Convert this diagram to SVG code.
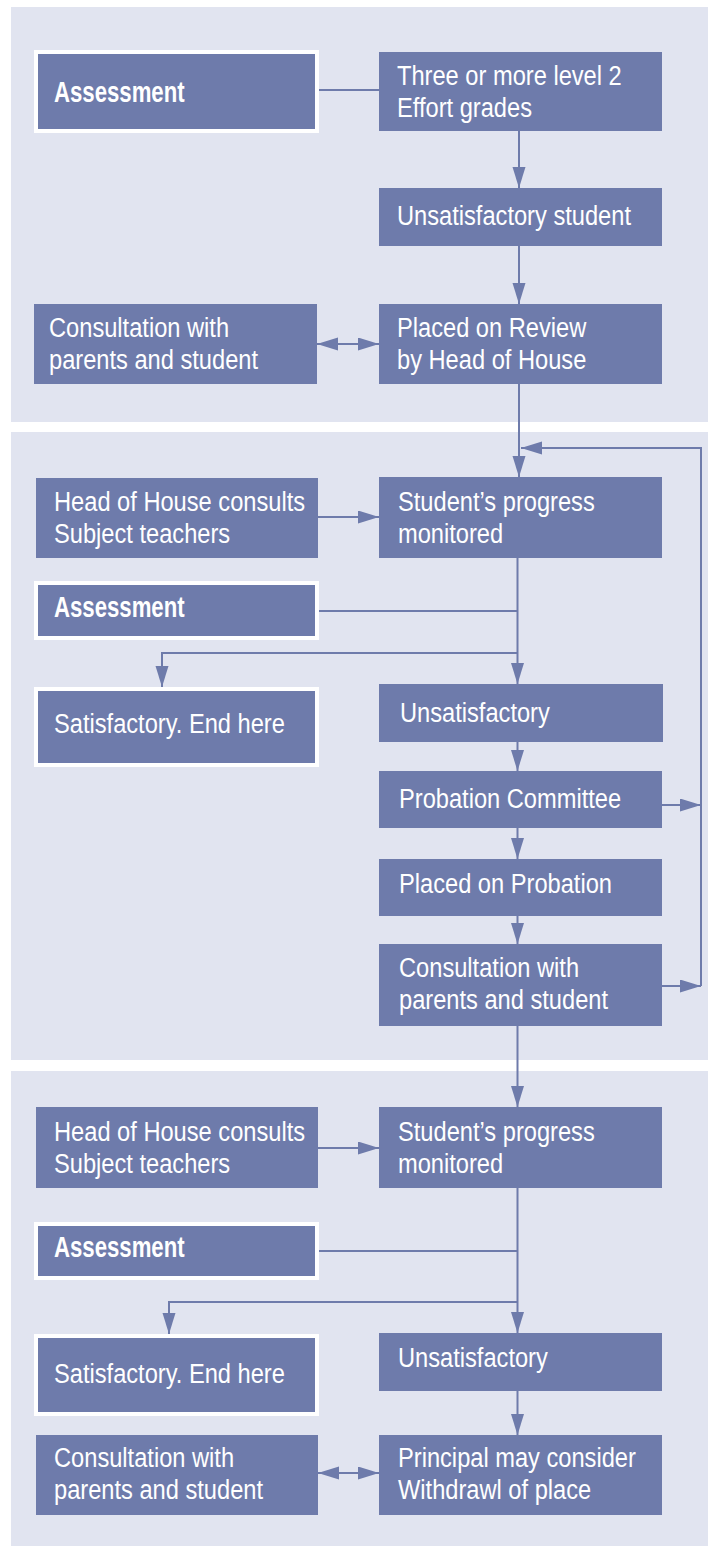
<svg xmlns="http://www.w3.org/2000/svg" width="708" height="1546" viewBox="0 0 708 1546">
<defs>
<style>
.panel{fill:#e1e4f0}
.box{fill:#6e7bab}
.wb{fill:#6e7bab;stroke:#ffffff;stroke-width:4}
.t{font-family:"Liberation Sans",Arial,sans-serif;font-size:28px;fill:#ffffff}
.b{font-family:"Liberation Sans",Arial,sans-serif;font-size:29px;font-weight:bold;fill:#ffffff}
.c{fill:none;stroke:#6e7bab;stroke-width:2}
.a{marker-end:url(#ah)}
.d{marker-end:url(#ah);marker-start:url(#ah)}
</style>
<marker id="ah" markerUnits="userSpaceOnUse" markerWidth="22" markerHeight="14" refX="21" refY="6.5" orient="auto-start-reverse">
<path d="M0,0 L21,6.5 L0,13 Z" fill="#6e7bab"/>
</marker>
</defs>
<rect width="708" height="1546" fill="#ffffff"/>
<g id="panels">
<rect class="panel" x="11" y="7" width="697" height="415"/>
<rect class="panel" x="11" y="432" width="697" height="628"/>
<rect class="panel" x="11" y="1071" width="697" height="475"/>
</g>
<g id="connectors">
<line class="c" x1="317" y1="90" x2="379" y2="90"/>
<line class="c a" x1="519" y1="131" x2="519" y2="188"/>
<line class="c a" x1="519" y1="246" x2="519" y2="304"/>
<line class="c d" x1="317" y1="344" x2="379" y2="344"/>
<line class="c a" x1="519" y1="384" x2="519" y2="477"/>
<line class="c a" x1="662" y1="805" x2="701" y2="805"/>
<line class="c a" x1="662" y1="986" x2="701" y2="986"/>
<polyline class="c a" points="701,986 701,448 521,448"/>
<line class="c a" x1="318" y1="517" x2="379" y2="517"/>
<line class="c a" x1="517.5" y1="558" x2="517.5" y2="684"/>
<line class="c" x1="317" y1="611" x2="517.5" y2="611"/>
<polyline class="c a" points="517.5,653 162,653 162,687"/>
<line class="c a" x1="517.5" y1="742" x2="517.5" y2="771"/>
<line class="c a" x1="517.5" y1="828" x2="517.5" y2="859"/>
<line class="c a" x1="517.5" y1="916" x2="517.5" y2="944"/>
<line class="c a" x1="517.5" y1="1026" x2="517.5" y2="1107"/>
<line class="c a" x1="318" y1="1148" x2="379" y2="1148"/>
<line class="c a" x1="517.5" y1="1188" x2="517.5" y2="1333"/>
<line class="c" x1="317" y1="1251" x2="517.5" y2="1251"/>
<polyline class="c a" points="517.5,1302 169,1302 169,1334"/>
<line class="c a" x1="517.5" y1="1391" x2="517.5" y2="1435"/>
<line class="c d" x1="318" y1="1473" x2="379" y2="1473"/>
</g>
<g id="n_assess1"><rect class="wb" x="36" y="52" width="281" height="79"/><text class="b" transform="translate(54 102) scale(.765 1)">Assessment</text></g>
<g id="n_three"><rect class="box" x="379" y="52" width="283" height="79"/><text class="t" transform="translate(397 85) scale(.845 1)"><tspan x="0" y="0">Three or more level 2</tspan><tspan x="0" dy="32">Effort grades</tspan></text></g>
<g id="n_unsat_student"><rect class="box" x="379" y="188" width="283" height="58"/><text class="t" transform="translate(397 225) scale(.845 1)">Unsatisfactory student</text></g>
<g id="n_review"><rect class="box" x="379" y="304" width="283" height="80"/><text class="t" transform="translate(397 337) scale(.845 1)"><tspan x="0" y="0">Placed on Review</tspan><tspan x="0" dy="32">by Head of House</tspan></text></g>
<g id="n_consult1"><rect class="box" x="34" y="304" width="283" height="80"/><text class="t" transform="translate(49 337) scale(.845 1)"><tspan x="0" y="0">Consultation with</tspan><tspan x="0" dy="32">parents and student</tspan></text></g>
<g id="n_progress1"><rect class="box" x="379" y="477" width="283" height="81"/><text class="t" transform="translate(398 511) scale(.845 1)"><tspan x="0" y="0">Student’s progress</tspan><tspan x="0" dy="32">monitored</tspan></text></g>
<g id="n_hoh1"><rect class="box" x="36" y="478" width="282" height="80"/><text class="t" transform="translate(54 511) scale(.845 1)"><tspan x="0" y="0">Head of House consults</tspan><tspan x="0" dy="32">Subject teachers</tspan></text></g>
<g id="n_assess2"><rect class="wb" x="36" y="583" width="281" height="55"/><text class="b" transform="translate(54 617) scale(.765 1)">Assessment</text></g>
<g id="n_sat1"><rect class="wb" x="36" y="689" width="281" height="76"/><text class="t" transform="translate(54 733) scale(.845 1)">Satisfactory. End here</text></g>
<g id="n_unsat1"><rect class="box" x="379" y="684" width="284" height="58"/><text class="t" transform="translate(400 722) scale(.845 1)">Unsatisfactory</text></g>
<g id="n_probcomm"><rect class="box" x="379" y="771" width="283" height="57"/><text class="t" transform="translate(399 808) scale(.845 1)">Probation Committee</text></g>
<g id="n_probation"><rect class="box" x="379" y="859" width="283" height="57"/><text class="t" transform="translate(399 893) scale(.845 1)">Placed on Probation</text></g>
<g id="n_consult2"><rect class="box" x="379" y="944" width="283" height="82"/><text class="t" transform="translate(399 977) scale(.845 1)"><tspan x="0" y="0">Consultation with</tspan><tspan x="0" dy="32">parents and student</tspan></text></g>
<g id="n_progress2"><rect class="box" x="379" y="1107" width="283" height="81"/><text class="t" transform="translate(398 1141) scale(.845 1)"><tspan x="0" y="0">Student’s progress</tspan><tspan x="0" dy="32">monitored</tspan></text></g>
<g id="n_hoh2"><rect class="box" x="36" y="1107" width="282" height="81"/><text class="t" transform="translate(54 1141) scale(.845 1)"><tspan x="0" y="0">Head of House consults</tspan><tspan x="0" dy="32">Subject teachers</tspan></text></g>
<g id="n_assess3"><rect class="wb" x="36" y="1224" width="281" height="54"/><text class="b" transform="translate(54 1257) scale(.765 1)">Assessment</text></g>
<g id="n_sat2"><rect class="wb" x="36" y="1336" width="281" height="78"/><text class="t" transform="translate(54 1383) scale(.845 1)">Satisfactory. End here</text></g>
<g id="n_unsat2"><rect class="box" x="379" y="1333" width="283" height="58"/><text class="t" transform="translate(398 1367) scale(.845 1)">Unsatisfactory</text></g>
<g id="n_principal"><rect class="box" x="379" y="1435" width="283" height="80"/><text class="t" transform="translate(398 1467) scale(.845 1)"><tspan x="0" y="0">Principal may consider</tspan><tspan x="0" dy="32">Withdrawl of place</tspan></text></g>
<g id="n_consult3"><rect class="box" x="36" y="1435" width="282" height="80"/><text class="t" transform="translate(54 1467) scale(.845 1)"><tspan x="0" y="0">Consultation with</tspan><tspan x="0" dy="32">parents and student</tspan></text></g>
</svg>
